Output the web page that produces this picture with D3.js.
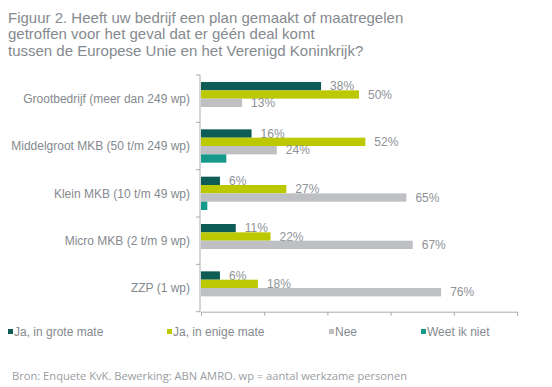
<!DOCTYPE html>
<html>
<head>
<meta charset="utf-8">
<script src="https://cdn.jsdelivr.net/npm/d3@7"></script>
<style>
  body { margin: 0; background: #fff; }
  svg { display: block; }
</style>
</head>
<body>
<svg width="552" height="387"></svg>
<script>
const svg = d3.select('svg');

const categories = [
  'Grootbedrijf (meer dan 249 wp)',
  'Middelgroot MKB (50 t/m 249 wp)',
  'Klein MKB (10 t/m 49 wp)',
  'Micro MKB (2 t/m 9 wp)',
  'ZZP (1 wp)'
];
const seriesNames = ['Ja, in grote mate', 'Ja, in enige mate', 'Nee', 'Weet ik niet'];
const groteMate = [38, 16, 6, 11, 6];
const enigeMate = [50, 52, 27, 22, 18];
const nee = [13, 24, 65, 67, 76];
const weetNiet = [0, 8, 2, 0, 0];
const xTicks = [0, 20, 40, 60, 80, 100];

const titleLines = [
  'Figuur 2. Heeft uw bedrijf een plan gemaakt of maatregelen',
  'getroffen voor het geval dat er géén deal komt',
  'tussen de Europese Unie en het Verenigd Koninkrijk?'
];
const source = 'Bron: Enquete KvK. Bewerking: ABN AMRO. wp = aantal werkzame personen';

const colors = ['#0d5c55', '#bcc800', '#bfc0c4', '#14998b'];
const values = [groteMate, enigeMate, nee, weetNiet];
const showLabel = [true, true, true, false];

const textGrey = '#858a8f';
const axisGrey = '#a9acb0';

const xScale = d3.scaleLinear().domain([0, 100]).range([201, 517]);
const yScale = d3.scaleBand().domain(categories).range([75, 311.7]);
const sub = d3.scaleBand()
  .domain(seriesNames)
  .range([0, yScale.bandwidth()])
  .paddingOuter(0.84);

// title
svg.append('g')
  .selectAll('text').data(titleLines)
  .enter().append('text')
    .attr('x', 8)
    .attr('y', (d, i) => 23 + i * 16.3)
    .attr('font-family', 'Liberation Sans, Arial, sans-serif')
    .attr('font-size', 15)
    .attr('fill', textGrey)
    .text(d => d);

// axes
const xAxis = d3.axisBottom(xScale)
  .tickValues(xTicks)
  .tickSize(4)
  .tickFormat('');

const xg = svg.append('g')
  .attr('transform', `translate(0,${yScale.range()[1]})`)
  .call(xAxis);
xg.selectAll('path, line').attr('stroke', axisGrey);

const yEdges = categories.map(c => yScale(c)).concat([yScale.range()[1]]);
const yg = svg.append('g');
yg.append('line')
  .attr('x1', 200).attr('x2', 200)
  .attr('y1', yScale.range()[0]).attr('y2', yScale.range()[1])
  .attr('stroke', axisGrey);
yg.selectAll('line.tick').data(yEdges)
  .enter().append('line')
    .attr('class', 'tick')
    .attr('x1', 196).attr('x2', 200)
    .attr('y1', d => d).attr('y2', d => d)
    .attr('stroke', axisGrey);

// category labels
svg.append('g')
  .selectAll('text').data(categories)
  .enter().append('text')
    .attr('x', 190)
    .attr('y', d => yScale(d) + yScale.bandwidth() / 2)
    .attr('dy', '0.35em')
    .attr('text-anchor', 'end')
    .attr('font-family', 'Liberation Sans, Arial, sans-serif')
    .attr('font-size', 12)
    .attr('fill', textGrey)
    .text(d => d);

// bars
seriesNames.forEach((s, si) => {
  const rows = categories.map((c, i) => ({ c, v: values[si][i] }));
  const g = svg.append('g');
  g.selectAll('rect').data(rows.filter(d => d.v > 0))
    .enter().append('rect')
      .attr('x', xScale(0))
      .attr('y', d => yScale(d.c) + sub(s))
      .attr('width', d => xScale(d.v) - xScale(0))
      .attr('height', sub.bandwidth())
      .attr('fill', colors[si]);
  if (showLabel[si]) {
    g.selectAll('text').data(rows)
      .enter().append('text')
        .attr('x', d => xScale(d.v) + 9)
        .attr('y', d => yScale(d.c) + sub(s) + sub.bandwidth() / 2)
        .attr('dy', '0.35em')
        .attr('font-family', 'Liberation Sans, Arial, sans-serif')
        .attr('font-size', 12)
        .attr('fill', '#8e9297')
        .text(d => d.v + '%');
  }
});

// legend
const legendX = [8, 167, 329, 421];
const lg = svg.append('g').selectAll('g').data(seriesNames)
  .enter().append('g')
    .attr('transform', (d, i) => `translate(${legendX[i]},332)`);
lg.append('rect')
  .attr('x', 0).attr('y', -3)
  .attr('width', 5).attr('height', 5)
  .attr('fill', (d, i) => colors[i]);
lg.append('text')
  .attr('x', 6)
  .attr('y', 0)
  .attr('dy', '0.35em')
  .attr('font-family', 'Liberation Sans, Arial, sans-serif')
  .attr('font-size', 12)
  .attr('fill', textGrey)
  .text(d => d);

// source
svg.append('text')
  .attr('x', 12)
  .attr('y', 380)
  .attr('font-family', 'Open Sans, Noto Sans, sans-serif')
  .attr('font-size', 11)
  .attr('fill', '#9a9da1')
  .attr('textLength', 395)
  .attr('lengthAdjust', 'spacingAndGlyphs')
  .text(source);
</script>
</body>
</html>
